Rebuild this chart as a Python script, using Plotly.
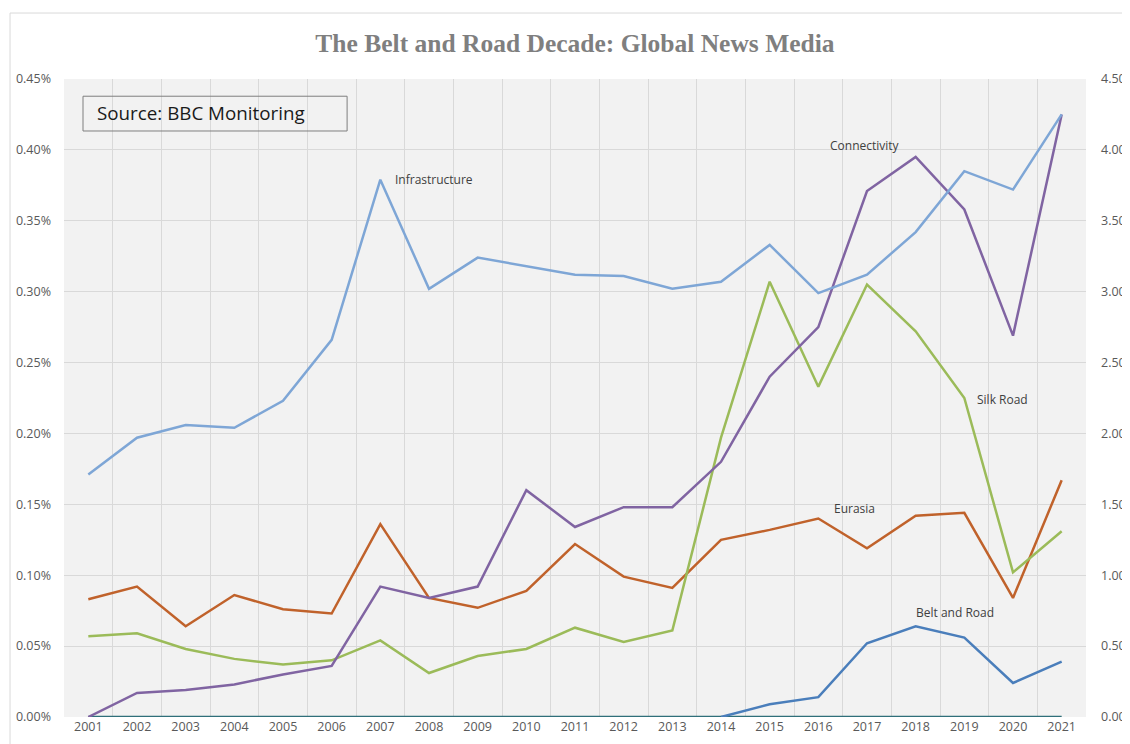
import plotly.graph_objects as go

years = [str(y) for y in range(2001, 2022)]

# values in percent of all news items
infrastructure = [1.71, 1.97, 2.06, 2.04, 2.23, 2.66, 3.79, 3.02, 3.24, 3.18, 3.12,
                  3.11, 3.02, 3.07, 3.33, 2.99, 3.12, 3.42, 3.85, 3.72, 4.25]  # right axis
connectivity = [0.000, 0.017, 0.019, 0.023, 0.030, 0.036, 0.092, 0.084, 0.092, 0.160, 0.134,
                0.148, 0.148, 0.180, 0.240, 0.275, 0.371, 0.395, 0.358, 0.269, 0.425]
silk_road = [0.057, 0.059, 0.048, 0.041, 0.037, 0.040, 0.054, 0.031, 0.043, 0.048, 0.063,
             0.053, 0.061, 0.197, 0.307, 0.233, 0.305, 0.272, 0.225, 0.102, 0.131]
eurasia = [0.083, 0.092, 0.064, 0.086, 0.076, 0.073, 0.136, 0.084, 0.077, 0.089, 0.122,
           0.099, 0.091, 0.125, 0.132, 0.140, 0.119, 0.142, 0.144, 0.084, 0.167]
belt_and_road = [None] * 13 + [0.000, 0.009, 0.014, 0.052, 0.064, 0.056, 0.024, 0.039]
baseline = [0.0] * 21

left_ticks = [0, 0.05, 0.10, 0.15, 0.20, 0.25, 0.30, 0.35, 0.40, 0.45]
right_ticks = [0, 0.5, 1.0, 1.5, 2.0, 2.5, 3.0, 3.5, 4.0, 4.5]

fig = go.Figure()

# draw order roughly as in the Excel chart
fig.add_trace(go.Scatter(x=years, y=baseline, mode='lines', name='baseline',
                         line=dict(color='#2F6F7A', width=2.5)))
fig.add_trace(go.Scatter(x=years, y=eurasia, mode='lines', name='Eurasia',
                         line=dict(color='#C0622B', width=2.5)))
fig.add_trace(go.Scatter(x=years, y=silk_road, mode='lines', name='Silk Road',
                         line=dict(color='#9BBB59', width=2.5)))
fig.add_trace(go.Scatter(x=years, y=connectivity, mode='lines', name='Connectivity',
                         line=dict(color='#8064A2', width=2.5)))
fig.add_trace(go.Scatter(x=years, y=belt_and_road, mode='lines', name='Belt and Road',
                         line=dict(color='#4A7EBB', width=2.5)))
fig.add_trace(go.Scatter(x=years, y=infrastructure, mode='lines', name='Infrastructure',
                         yaxis='y2', line=dict(color='#7EA6D6', width=2.5)))

label_font = dict(family='Open Sans, Noto Sans, sans-serif', size=12, color='#404040')
labels = [
    ('Infrastructure', 6.25, 0.379, 'left'),
    ('Connectivity', 15.95, 0.403, 'center'),
    ('Silk Road', 18.79, 0.224, 'center'),
    ('Eurasia', 15.75, 0.147, 'center'),
    ('Belt and Road', 17.8, 0.074, 'center'),
]
for text, xi, yi, anchor in labels:
    fig.add_annotation(x=xi, y=yi, xref='x', yref='y', text=text, showarrow=False,
                       xanchor=anchor, yanchor='middle', font=label_font)

# source box
fig.add_shape(type='rect', xref='paper', yref='paper', x0=0.0186, x1=0.277, y0=0.9185, y1=0.973,
              line=dict(color='#7F7F7F', width=1), fillcolor='rgba(0,0,0,0)')
fig.add_annotation(x=0.0303, y=0.946, xref='paper', yref='paper', text='Source: BBC Monitoring',
                   showarrow=False, xanchor='left', yanchor='middle',
                   font=dict(family='Open Sans, Noto Sans, sans-serif', size=18.8, color='#1A1A1A'))

# faint chart-area border
fig.add_shape(type='rect', xref='paper', yref='paper', x0=-0.0528, x1=1.1, y0=-0.1, y1=1.1034,
              line=dict(color='#D9D9D9', width=1), fillcolor='rgba(0,0,0,0)', layer='below')

tick_font = dict(family='Open Sans, Noto Sans, sans-serif', size=12.5, color='#595959')

fig.update_layout(
    width=1122, height=736,
    margin=dict(l=56, r=44, t=71, b=27, autoexpand=False),
    paper_bgcolor='white',
    plot_bgcolor='#F2F2F2',
    showlegend=False,
    title=dict(text='<b>The Belt and Road Decade: Global News Media</b>', x=0.5053, xanchor='center',
               y=0.9524, yanchor='middle',
               font=dict(family='Liberation Serif, DejaVu Serif, serif', size=25.5, color='#7F7F7F')),
    xaxis=dict(type='category', range=[-0.5, 20.5], tickson='boundaries', ticks='',
               showgrid=True, gridcolor='#D9D9D9', gridwidth=1, tickfont=tick_font,
               showline=False, zeroline=False, automargin=False),
    yaxis=dict(range=[0, 0.45], tickvals=left_ticks, ticktext=[f'{v:.2f}%' for v in left_ticks],
               showgrid=True, gridcolor='#D9D9D9', gridwidth=1, tickfont=tick_font,
               zeroline=False, showline=False, automargin=False, ticklabelstandoff=12),
    yaxis2=dict(range=[0, 4.5], tickvals=right_ticks, ticktext=[f'{v:.2f}%' for v in right_ticks],
                overlaying='y', side='right', showgrid=False, tickfont=tick_font,
                zeroline=False, showline=False, automargin=False, ticklabelstandoff=14),
)

fig.write_html("out.html")
